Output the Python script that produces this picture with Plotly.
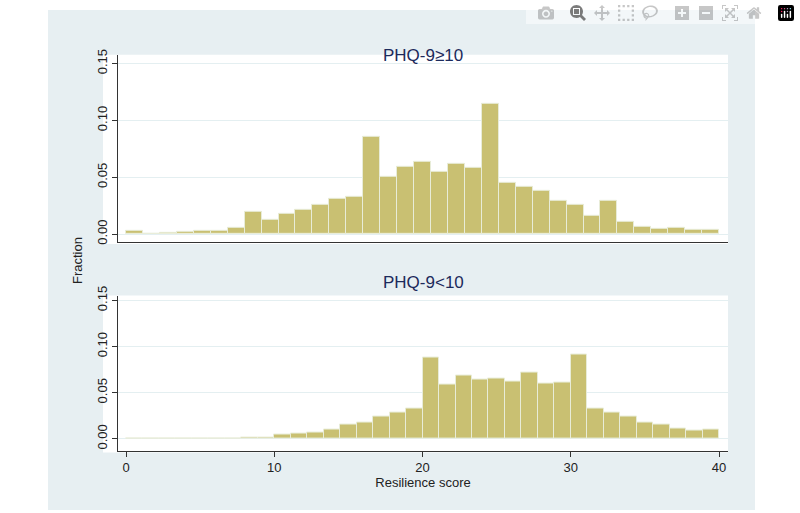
import numpy as np
import plotly.graph_objects as go

# fraction per bin
high_phq = [0.0026, 0.0006, 0.0014, 0.0023, 0.003, 0.0026, 0.0057, 0.020, 0.0126, 0.0175,
            0.0216, 0.026, 0.031, 0.033, 0.086, 0.050, 0.0595, 0.064, 0.055, 0.062,
            0.058, 0.1147, 0.045, 0.042, 0.038, 0.029, 0.0256, 0.016, 0.0296, 0.0106,
            0.0066, 0.0049, 0.0055, 0.0037, 0.0037]
low_phq = [0.0007, 0, 0, 0.0005, 0.0005, 0.0006, 0.0007, 0.001, 0.0014, 0.0047,
           0.0054, 0.0068, 0.010, 0.015, 0.0176, 0.0237, 0.028, 0.033, 0.088, 0.059,
           0.069, 0.064, 0.065, 0.062, 0.072, 0.060, 0.061, 0.0914, 0.0327, 0.028,
           0.0237, 0.0176, 0.016, 0.0115, 0.009, 0.010]
score_min, score_max = 0, 40
x_ticks = [0, 10, 20, 30, 40]
y_ticks = [0, 0.05, 0.10, 0.15]

W, H = 800, 513
def px(x): return x / W
def py(y): return 1 - y / H

bar_col = '#c9c072'
navy = '#1c2a5c'

def bars(vals, xa, ya):
    edges = np.linspace(score_min, score_max, len(vals) + 1)
    centers = (edges[:-1] + edges[1:]) / 2
    return go.Bar(x=centers, y=vals, width=edges[1] - edges[0], xaxis=xa, yaxis=ya,
                  marker=dict(color=bar_col, line=dict(color='#e8ecd8', width=1)),
                  showlegend=False)

fig = go.Figure()
fig.add_trace(bars(high_phq, 'x', 'y'))
fig.add_trace(bars(low_phq, 'x2', 'y2'))

ax_common = dict(range=[-0.54, 40.6], showgrid=False, zeroline=False, showline=True,
                 linecolor='#333', linewidth=1, tickvals=x_ticks, ticks='outside',
                 ticklen=5, tickcolor='#333', tickfont=dict(family='Liberation Sans', size=13, color='#222'))
ay_common = dict(tickvals=y_ticks, ticktext=['0.00', '0.05', '0.10', '0.15'], tickangle=-90,
                 showgrid=True, gridcolor='#e4eff1', gridwidth=1, zeroline=False, showline=True,
                 linecolor='#333', ticks='outside', ticklen=5, tickcolor='#333',
                 tickfont=dict(family='Liberation Sans', size=13, color='#222'))

fig.update_layout(
    width=W, height=H, margin=dict(l=0, r=0, t=0, b=0),
    paper_bgcolor='white', plot_bgcolor='white', bargap=0,
    xaxis=dict(ax_common, domain=[px(118), px(728)], anchor='y', showticklabels=False, ticks=''),
    yaxis=dict(ay_common, domain=[py(238), py(46)], range=[-0.0069, 0.1577], anchor='x'),
    xaxis2=dict(ax_common, domain=[px(118), px(728)], anchor='y2',
                title=dict(text='Resilience score', standoff=2,
                           font=dict(family='Liberation Sans', size=13, color='#222'))),
    yaxis2=dict(ay_common, domain=[py(452), py(293)], range=[-0.0127, 0.1553], anchor='x2'),
    shapes=[
        dict(type='rect', xref='paper', yref='paper', x0=px(48), x1=px(755), y0=0, y1=1,
             fillcolor='#e7eff2', line_width=0, layer='below'),
        dict(type='rect', xref='paper', yref='paper', x0=px(103), x1=px(728), y0=py(240), y1=py(46),
             fillcolor='white', line_width=0, layer='below'),
        dict(type='rect', xref='paper', yref='paper', x0=px(103), x1=px(728), y0=py(454), y1=py(293),
             fillcolor='white', line_width=0, layer='below'),
    ],
    annotations=[
        dict(text='PHQ-9≥10', x=px(423), y=py(35), xref='paper', yref='paper', showarrow=False,
             font=dict(family='Liberation Sans', size=17, color=navy)),
        dict(text='PHQ-9<10', x=px(423), y=py(280), xref='paper', yref='paper', showarrow=False,
             font=dict(family='Liberation Sans', size=17, color=navy)),
        dict(text='Fraction', x=px(68), y=py(257), xref='paper', yref='paper', showarrow=False,
             textangle=-90, font=dict(family='Liberation Sans', size=13, color='#222')),
    ],
)

fig.write_html('out.html', post_script="document.body.style.margin='0';document.body.style.overflow='hidden';")
